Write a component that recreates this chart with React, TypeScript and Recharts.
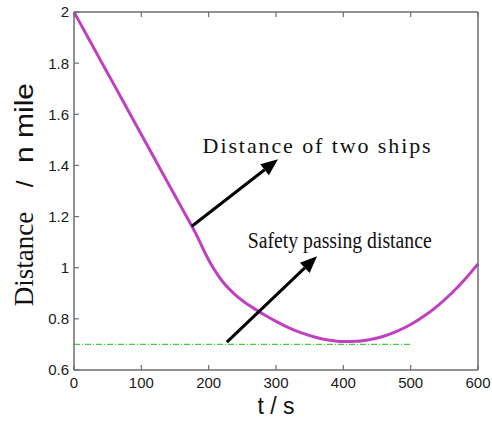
import React from 'react';
import {
  LineChart,
  Line,
  XAxis,
  YAxis,
  ReferenceLine,
  ReferenceDot,
} from 'recharts';

// time (s) and distance between the two ships (n mile)
const timeS = [0, 20, 40, 60, 80, 100, 120, 140, 160, 180, 200, 220, 240, 260, 280, 300, 320, 340, 360, 380, 400, 420, 440, 460, 480, 500, 520, 540, 560, 580, 600];
const shipDistance = [2.0, 1.904, 1.808, 1.713, 1.617, 1.521, 1.425, 1.329, 1.234, 1.138, 1.03, 0.948, 0.893, 0.853, 0.82, 0.79, 0.764, 0.743, 0.727, 0.716, 0.711, 0.712, 0.719, 0.732, 0.752, 0.778, 0.811, 0.851, 0.898, 0.953, 1.015];

// safety passing distance line
const safetyTime = [0, 500];
const safetyDistance = [0.7, 0.7];

const xTicks = [0, 100, 200, 300, 400, 500, 600];
const yTicks = [0.6, 0.8, 1, 1.2, 1.4, 1.6, 1.8, 2];

// annotation arrows [from, to] in data units, and labels
const arrowShips = [{ x: 175, y: 1.162 }, { x: 303, y: 1.424 }];
const arrowSafety = [{ x: 227, y: 0.709 }, { x: 361, y: 1.045 }];
const labelShips = { x: 191, y: 1.448, text: 'Distance of two ships' };
const labelSafety = { x: 258, y: 1.077, text: 'Safety passing distance' };

const chartData = timeS.map((t, i) => ({ t, d: shipDistance[i] }));
const safetyData = safetyTime.map((t, i) => ({ t, s: safetyDistance[i] }));

const AXIS = '#6e6e6e';
const TICK_FONT = '"Liberation Sans", Arial, sans-serif';
const SERIF = '"Liberation Serif", "Times New Roman", serif';

const fmt = (v: number) => String(parseFloat(v.toFixed(1)));

const BottomTick = (p: any) => (
  <g>
    <line x1={p.x} y1={p.y} x2={p.x} y2={p.y - 5} stroke={AXIS} strokeWidth={1.2} />
    <text x={p.x} y={p.y + 18} textAnchor="middle" fontSize={15} fontFamily={TICK_FONT} fill="#1a1a1a">
      {fmt(p.payload.value)}
    </text>
  </g>
);

const LeftTick = (p: any) => (
  <g>
    <line x1={p.x} y1={p.y} x2={p.x + 5} y2={p.y} stroke={AXIS} strokeWidth={1.2} />
    <text x={p.x - 5} y={p.y} dy="0.36em" textAnchor="end" fontSize={15} fontFamily={TICK_FONT} fill="#1a1a1a">
      {fmt(p.payload.value)}
    </text>
  </g>
);

const TopTick = (p: any) => (
  <line x1={p.x} y1={p.y} x2={p.x} y2={p.y + 5} stroke={AXIS} strokeWidth={1.2} />
);

const RightTick = (p: any) => (
  <line x1={p.x} y1={p.y} x2={p.x - 5} y2={p.y} stroke={AXIS} strokeWidth={1.2} />
);

const Arrow = (p: any) => {
  const { x1, y1, x2, y2 } = p;
  const ang = Math.atan2(y2 - y1, x2 - x1);
  const len = 17;
  const hw = 7;
  const bx = x2 - len * Math.cos(ang);
  const by = y2 - len * Math.sin(ang);
  const nx = -Math.sin(ang) * hw;
  const ny = Math.cos(ang) * hw;
  return (
    <g>
      <line x1={x1} y1={y1} x2={bx} y2={by} stroke="#000" strokeWidth={3} />
      <polygon points={`${x2},${y2} ${bx + nx},${by + ny} ${bx - nx},${by - ny}`} fill="#000" />
    </g>
  );
};

const YLabel = () => (
  <g transform="rotate(-90)" fill="#111">
    <text x={-259} y={33} textAnchor="middle" fontFamily={SERIF} fontSize={27}>
      Distance
    </text>
    <text x={-184} y={33} textAnchor="middle" fontFamily={TICK_FONT} fontSize={24}>
      /
    </text>
    <text x={-123} y={33} textAnchor="middle" fontFamily={TICK_FONT} fontSize={25} textLength={80} lengthAdjust="spacingAndGlyphs">
      n mile
    </text>
  </g>
);

const App: React.FC = () => {
  return (
    <div style={{ position: 'absolute', left: 0, top: 0, width: 492, height: 422, background: '#fff' }}>
      <LineChart
        width={492}
        height={422}
        data={chartData}
        margin={{ top: 11, right: 13, bottom: 22, left: 24 }}
      >
        <XAxis
          xAxisId="b"
          dataKey="t"
          type="number"
          domain={[0, 600]}
          ticks={xTicks}
          height={30}
          stroke={AXIS}
          strokeWidth={1.5}
          tickLine={false}
          tickSize={0}
          tickMargin={0}
          tick={BottomTick}
          interval={0}
          label={{
            content: () => (
              <text x={276} y={414} textAnchor="middle" fontSize={23} fontFamily={TICK_FONT} fill="#111">
                t / s
              </text>
            ),
          }}
        />
        <XAxis
          xAxisId="top"
          dataKey="t"
          type="number"
          orientation="top"
          domain={[0, 600]}
          ticks={xTicks}
          height={1}
          stroke={AXIS}
          strokeWidth={1.5}
          tickLine={false}
          tickSize={0}
          tickMargin={0}
          tick={TopTick}
          interval={0}
        />
        <YAxis
          yAxisId="l"
          type="number"
          domain={[0.6, 2]}
          ticks={yTicks}
          width={50}
          stroke={AXIS}
          strokeWidth={1.5}
          tickLine={false}
          tickSize={0}
          tickMargin={0}
          tick={LeftTick}
          interval={0}
          label={{ content: () => <YLabel /> }}
        />
        <YAxis
          yAxisId="r"
          orientation="right"
          type="number"
          domain={[0.6, 2]}
          ticks={yTicks}
          width={1}
          stroke={AXIS}
          strokeWidth={1.5}
          tickLine={false}
          tickSize={0}
          tickMargin={0}
          tick={RightTick}
          interval={0}
        />
        <Line
          xAxisId="b"
          yAxisId="l"
          data={safetyData}
          dataKey="s"
          type="linear"
          stroke="#3fcf3f"
          strokeWidth={1.2}
          strokeDasharray="6 2 1 2"
          dot={false}
          isAnimationActive={false}
        />
        <Line
          xAxisId="b"
          yAxisId="l"
          dataKey="d"
          type="monotone"
          stroke="#c040c0"
          strokeWidth={3}
          dot={false}
          isAnimationActive={false}
        />
        <ReferenceLine xAxisId="b" yAxisId="l" segment={arrowShips} shape={Arrow} />
        <ReferenceLine xAxisId="b" yAxisId="l" segment={arrowSafety} shape={Arrow} />
        <ReferenceDot
          xAxisId="b"
          yAxisId="l"
          x={labelShips.x}
          y={labelShips.y}
          r={0}
          shape={(p: any) => (
            <text
              x={p.cx}
              y={p.cy}
              fontFamily={SERIF}
              fontSize={22}
              textLength={228}
              lengthAdjust="spacing"
              fill="#111"
            >
              {labelShips.text}
            </text>
          )}
        />
        <ReferenceDot
          xAxisId="b"
          yAxisId="l"
          x={labelSafety.x}
          y={labelSafety.y}
          r={0}
          shape={(p: any) => (
            <text
              x={p.cx}
              y={p.cy}
              fontFamily={SERIF}
              fontSize={23}
              textLength={184}
              lengthAdjust="spacingAndGlyphs"
              fill="#111"
            >
              {labelSafety.text}
            </text>
          )}
        />
      </LineChart>
    </div>
  );
};

export default App;
